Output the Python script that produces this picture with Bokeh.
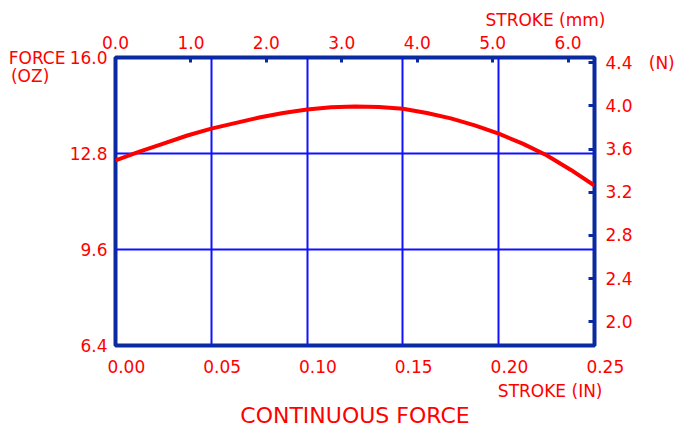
from bokeh.plotting import figure
from bokeh.models import (LinearAxis, Range1d, FixedTicker, PrintfTickFormatter,
                          Grid, Title, ColumnDataSource)
from bokeh.embed import file_html
from bokeh.resources import INLINE

# ---- data ----
stroke_in = [0.0, 0.0125, 0.025, 0.0375, 0.05, 0.075, 0.0875, 0.1, 0.1125,
             0.125, 0.1375, 0.15, 0.1625, 0.175, 0.1875, 0.2, 0.2125, 0.225,
             0.2375, 0.25]
force_oz = [12.57, 12.86, 13.13, 13.40, 13.63, 14.00, 14.15, 14.27, 14.34,
            14.37, 14.35, 14.29, 14.15, 13.97, 13.74, 13.46, 13.13, 12.74,
            12.26, 11.73]

x_ticks_in = [0.0, 0.05, 0.10, 0.15, 0.20, 0.25]
y_ticks_oz = [6.4, 9.6, 12.8, 16.0]
x_ticks_mm = [0.0, 1.0, 2.0, 3.0, 4.0, 5.0, 6.0]
y_ticks_n = [2.0, 2.4, 2.8, 3.2, 3.6, 4.0, 4.4]

title_text = "CONTINUOUS FORCE"
x_label_in = "STROKE (IN)"
x_label_mm = "STROKE (mm)"
y_label_oz = ["FORCE", "(OZ)"]
y_label_n = "(N)"

X0, X1 = 0.0, 0.25
Y0, Y1 = 6.4, 16.0
OZ_TO_N = 0.278014
IN_TO_MM = 25.4

RED = "#ff0000"
NAVY = "#0a2aa0"
BLUE = "#1010ff"
FONT = "DejaVu Sans"
NB = "\u00a0"

FL, FT, FW, FH = 115, 57, 479, 288   # frame geometry on canvas

p = figure(frame_width=FW, frame_height=FH,
           min_border_left=FL, min_border_top=FT,
           min_border_right=73, min_border_bottom=60,
           x_range=Range1d(X0, X1), y_range=Range1d(Y0, Y1),
           x_axis_type=None, y_axis_type=None,
           output_backend="svg", toolbar_location=None)
p.background_fill_color = "white"
p.border_fill_color = "white"
p.outline_line_color = NAVY
p.outline_line_width = 4

p.extra_x_ranges = {"mm": Range1d(X0 * IN_TO_MM, X1 * IN_TO_MM)}
p.extra_y_ranges = {"N": Range1d(Y0 * OZ_TO_N, Y1 * OZ_TO_N)}

# grids
p.add_layout(Grid(dimension=0, ticker=FixedTicker(ticks=x_ticks_in[1:-1]),
                  grid_line_color=BLUE, grid_line_width=2))
p.add_layout(Grid(dimension=1, ticker=FixedTicker(ticks=y_ticks_oz[1:-1]),
                  grid_line_color=BLUE, grid_line_width=2))


def style(ax, fmt, standoff):
    if fmt:
        ax.formatter = PrintfTickFormatter(format=fmt)
    ax.axis_line_color = None
    ax.minor_tick_line_color = None
    ax.major_label_text_color = RED
    ax.major_label_text_font = FONT
    ax.major_label_text_font_size = "17px"
    ax.major_label_standoff = standoff
    ax.major_tick_line_color = NAVY
    ax.major_tick_line_width = 3
    ax.major_tick_out = 0


left = LinearAxis(ticker=FixedTicker(ticks=y_ticks_oz))
style(left, "%.1f", 8)
left.major_tick_line_color = None
left.major_tick_in = 0
p.add_layout(left, "left")

# outer left "axis" carrying the quantity name at the top of the scale
name_ticks = [Y1, 15.37]
left2 = LinearAxis(ticker=FixedTicker(ticks=name_ticks))
style(left2, None, 1)
left2.major_tick_line_color = None
left2.major_tick_in = 0
left2.major_label_overrides = {name_ticks[0]: y_label_oz[0],
                               name_ticks[1]: y_label_oz[1] + NB * 3}
p.add_layout(left2, "left")

# bottom labels sit a little right of their grid lines in the original
bottom = LinearAxis(ticker=FixedTicker(ticks=x_ticks_in))
style(bottom, "%.2f", 11)
bottom.major_tick_line_color = None
bottom.major_tick_in = 0
bottom.major_label_overrides = {t: NB * 4 + "%.2f" % t for t in x_ticks_in}
p.add_layout(bottom, "below")

top = LinearAxis(x_range_name="mm", ticker=FixedTicker(ticks=x_ticks_mm))
style(top, "%.1f", 9)
top.major_tick_in = 5
p.add_layout(top, "above")

right = LinearAxis(y_range_name="N", ticker=FixedTicker(ticks=y_ticks_n))
style(right, "%.1f", 11)
right.major_tick_in = 6
right.major_label_overrides = {y_ticks_n[-1]: "%.1f" % y_ticks_n[-1] + NB * 3 + y_label_n}
p.add_layout(right, "right")

# texts in the side panels
p.add_layout(Title(text=x_label_mm, align="right", offset=-11, standoff=5,
                   text_color=RED, text_font=FONT, text_font_size="17px",
                   text_font_style="normal"), "above")
p.add_layout(Title(text=x_label_in, align="right", offset=-8, standoff=-2,
                   text_color=RED, text_font=FONT, text_font_size="17px",
                   text_font_style="normal"), "below")
p.add_layout(Title(text=title_text, align="center", offset=0, standoff=3,
                   text_color=RED, text_font=FONT, text_font_size="22px",
                   text_font_style="normal"), "below")

# curve
src = ColumnDataSource(dict(x=stroke_in, y=force_oz))
p.line("x", "y", source=src, line_color=RED, line_width=4)

open("out.html", "w").write(file_html(p, INLINE))
